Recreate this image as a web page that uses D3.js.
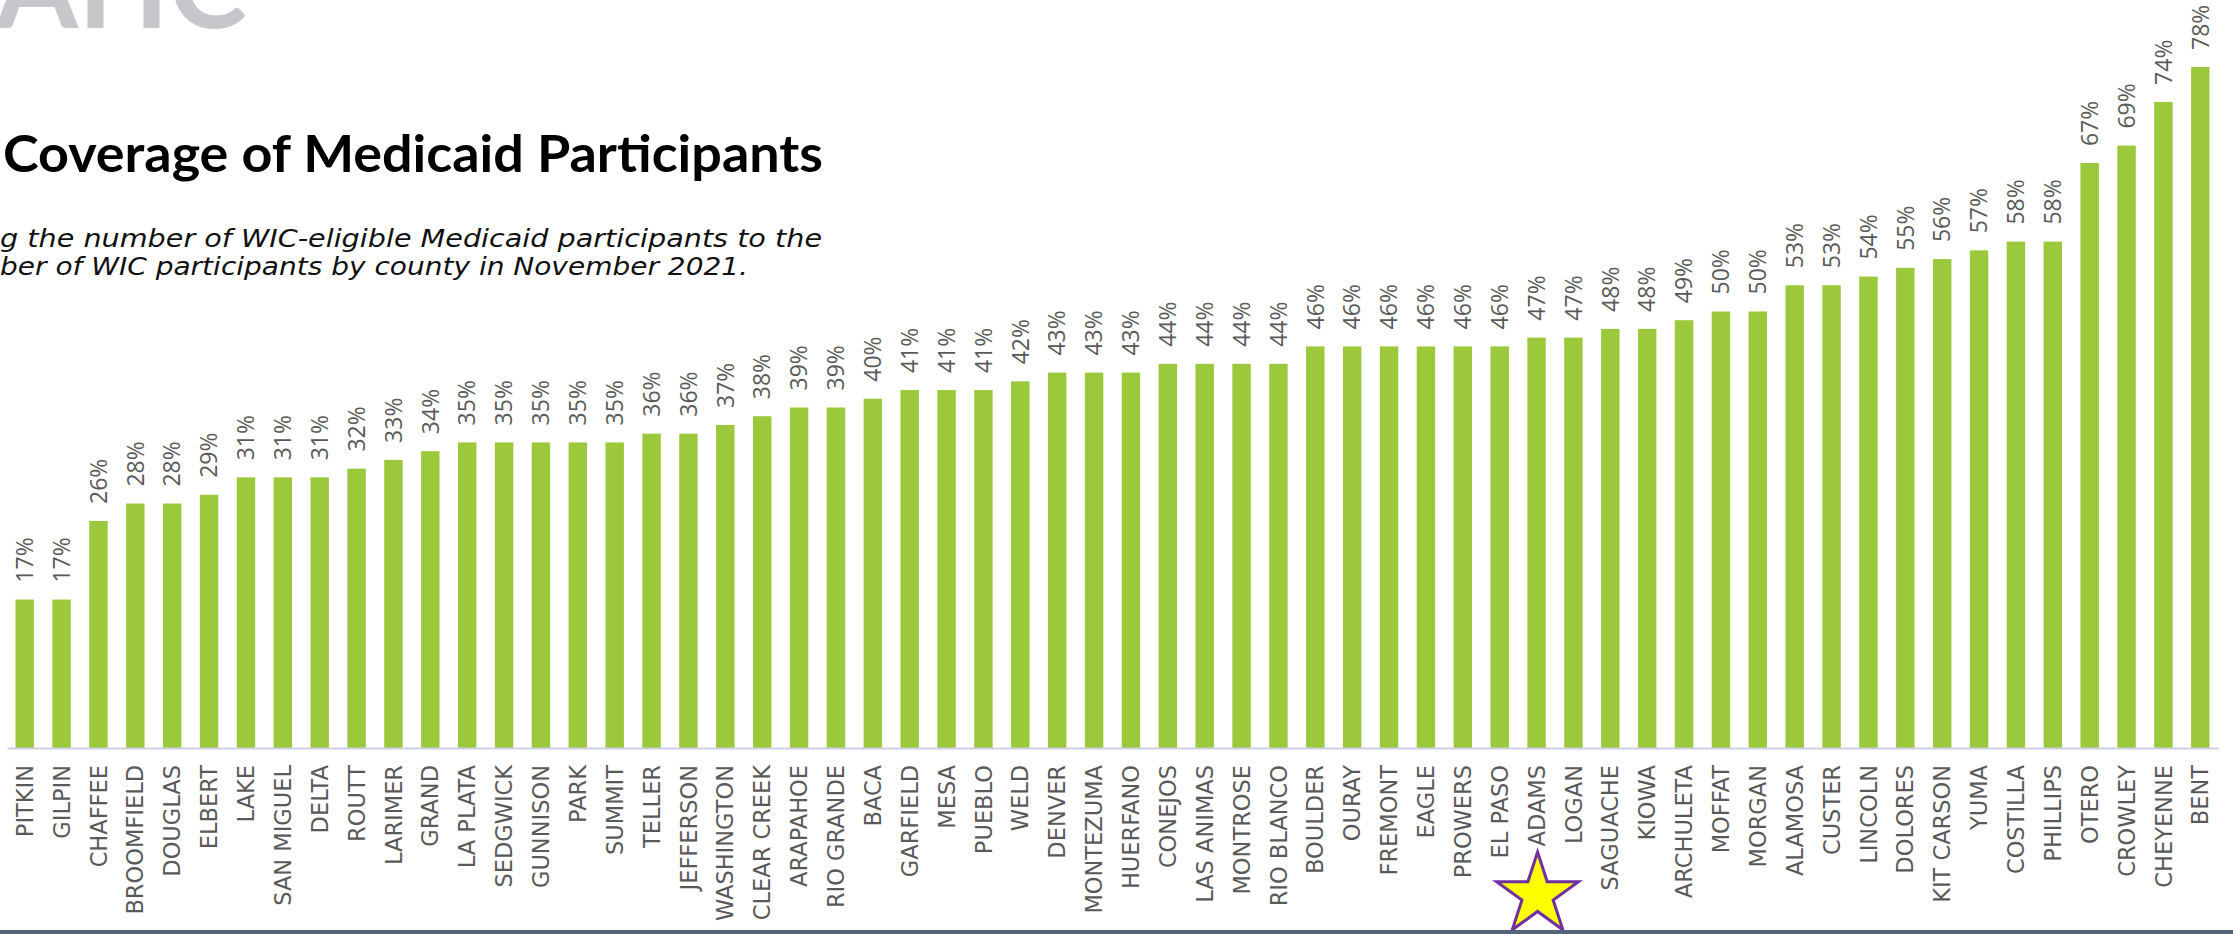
<!DOCTYPE html>
<html>
<head>
<meta charset="utf-8">
<title>Coverage of Medicaid Participants</title>
<script src="https://cdn.jsdelivr.net/npm/d3@7"></script>
<style>
  body { margin: 0; background: #ffffff; }
  svg { display: block; }
  .axis .domain { stroke: #cdd0e3; stroke-width: 2; }
</style>
</head>
<body>
<svg id="bar-chart"></svg>
<script>
// counties, sorted by coverage
var counties = ["PITKIN", "GILPIN", "CHAFFEE", "BROOMFIELD", "DOUGLAS", "ELBERT", "LAKE",
  "SAN MIGUEL", "DELTA", "ROUTT", "LARIMER", "GRAND", "LA PLATA", "SEDGWICK", "GUNNISON",
  "PARK", "SUMMIT", "TELLER", "JEFFERSON", "WASHINGTON", "CLEAR CREEK", "ARAPAHOE",
  "RIO GRANDE", "BACA", "GARFIELD", "MESA", "PUEBLO", "WELD", "DENVER", "MONTEZUMA",
  "HUERFANO", "CONEJOS", "LAS ANIMAS", "MONTROSE", "RIO BLANCO", "BOULDER", "OURAY",
  "FREMONT", "EAGLE", "PROWERS", "EL PASO", "ADAMS", "LOGAN", "SAGUACHE", "KIOWA",
  "ARCHULETA", "MOFFAT", "MORGAN", "ALAMOSA", "CUSTER", "LINCOLN", "DOLORES",
  "KIT CARSON", "YUMA", "COSTILLA", "PHILLIPS", "OTERO", "CROWLEY", "CHEYENNE", "BENT"];

// percent of WIC-eligible Medicaid participants on WIC
var coverage = [17, 17, 26, 28, 28, 29, 31, 31, 31, 32, 33, 34, 35, 35, 35, 35, 35, 36, 36, 37,
  38, 39, 39, 40, 41, 41, 41, 42, 43, 43, 43, 44, 44, 44, 44, 46, 46, 46, 46, 46,
  46, 47, 47, 48, 48, 49, 50, 50, 53, 53, 54, 55, 56, 57, 58, 58, 67, 69, 74, 78];

var highlighted = "ADAMS";

var titleText = "Coverage of Medicaid Participants";
var subtitleLines = ["g the number of WIC-eligible Medicaid participants to the",
                     "ber of WIC participants by county in November 2021."];

var width = 2233;
var height = 934;
var baseline = 748;

var data = counties.map((c, i) => ({ county: c, pct: coverage[i] }));

var svg = d3.select("#bar-chart")
              .attr("width", width)
              .attr("height", height);

svg.append("rect")
    .attr("width", width)
    .attr("height", height)
    .attr("fill", "#ffffff");

// bits of the logo peeking in at the top
svg.append("text")
    .attr("x", -4)
    .attr("y", 28)
    .attr("font-family", "Lato, sans-serif")
    .attr("font-weight", 700)
    .attr("font-size", 118)
    .attr("fill", "#c6c7cb")
    .text("AHC");

svg.append("text")
    .attr("x", 3)
    .attr("y", 172)
    .attr("font-family", "Lato, sans-serif")
    .attr("font-weight", 700)
    .attr("font-size", 51)
    .attr("fill", "#000000")
    .attr("textLength", 820)
    .attr("lengthAdjust", "spacingAndGlyphs")
    .text(titleText);

svg.selectAll(".subtitle")
  .data(subtitleLines)
  .enter()
  .append("text")
    .classed("subtitle", true)
    .attr("x", 0)
    .attr("y", (d, i) => 247 + i * 28)
    .attr("font-family", "'DejaVu Sans', sans-serif")
    .attr("font-style", "italic")
    .attr("font-size", 25)
    .attr("fill", "#111111")
    .attr("textLength", (d, i) => i === 0 ? 822 : 748)
    .attr("lengthAdjust", "spacingAndGlyphs")
    .text(d => d);

var xScale = d3.scaleBand()
               .domain(counties)
               .range([7, 2218])
               .paddingInner(0.5)
               .paddingOuter(0.23);

var yScale = d3.scaleLinear()
               .domain([0, 78])
               .range([baseline, 67]);

svg.selectAll(".bar")
  .data(data)
  .enter()
  .append("rect")
    .classed("bar", true)
    .attr("x", d => xScale(d.county))
    .attr("width", xScale.bandwidth())
    .attr("y", d => yScale(d.pct))
    .attr("height", d => baseline - yScale(d.pct))
    .attr("fill", "#9cc93c");

svg.selectAll(".value")
  .data(data)
  .enter()
  .append("text")
    .classed("value", true)
    .attr("transform", d => "translate(" + (xScale(d.county) + xScale.bandwidth() / 2) + "," + (yScale(d.pct) - 17) + ") rotate(-90)")
    .attr("dy", "0.36em")
    .attr("font-family", "'Open Sans', sans-serif")
    .attr("font-size", 23)
    .attr("fill", "#595959")
    .text(d => d.pct + "%");

var xAxis = d3.axisBottom(xScale)
              .tickSize(0)
              .tickSizeOuter(0);

var gx = svg.append("g")
    .classed("axis", true)
    .attr("transform", "translate(0," + baseline + ")")
    .call(xAxis);

gx.selectAll(".tick text")
    .attr("transform", "rotate(-90)")
    .attr("x", -17)
    .attr("y", 0)
    .attr("dy", "0.36em")
    .style("text-anchor", "end")
    .style("font-family", "'DejaVu Sans', sans-serif")
    .style("font-size", "22.5px")
    .style("fill", "#595959");

// star under the highlighted county
svg.append("path")
    .attr("d", d3.symbol(d3.symbolStar, 2076))
    .attr("transform", "translate(" + (xScale(highlighted) + xScale.bandwidth() / 2 + 1) + ",895)")
    .attr("fill", "#ffff00")
    .attr("stroke", "#7030a0")
    .attr("stroke-width", 3)
    .attr("stroke-linejoin", "miter");

// frame line along the bottom
svg.append("rect")
    .attr("x", 0)
    .attr("y", 930)
    .attr("width", width)
    .attr("height", 4)
    .attr("fill", "#56627a");
</script>
</body>
</html>
